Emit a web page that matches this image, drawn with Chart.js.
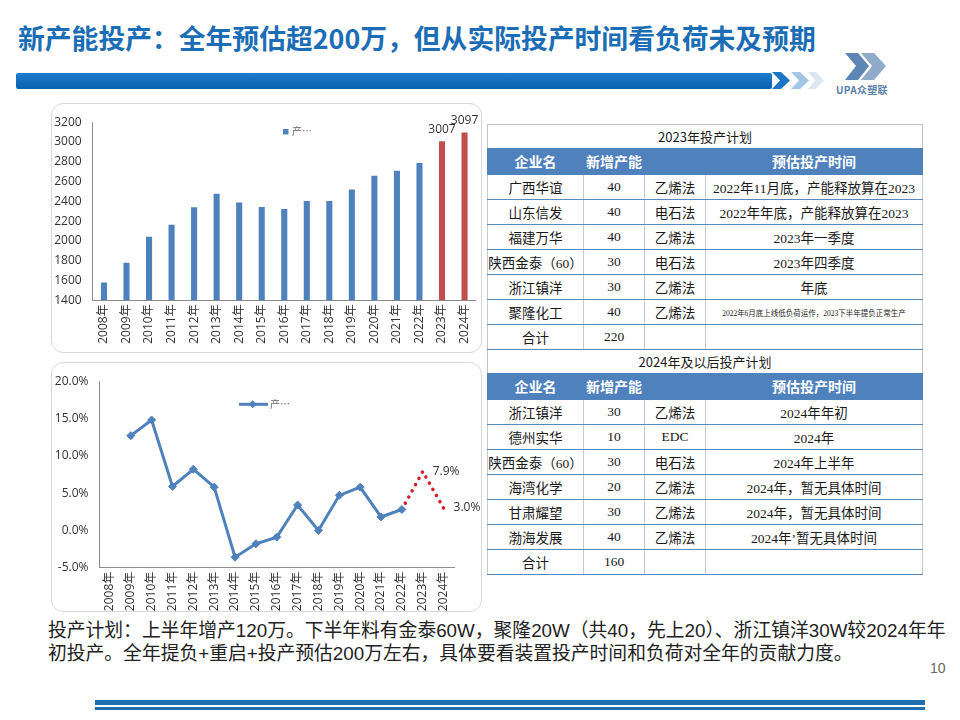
<!DOCTYPE html>
<html>
<head>
<meta charset="utf-8">
<script src="https://cdn.jsdelivr.net/npm/chart.js@4.4.0/dist/chart.umd.min.js"></script>
<style>
body{margin:0;width:960px;height:720px;position:relative;overflow:hidden;background:#fff;font-family:"Noto Sans CJK SC",sans-serif;}
#title{position:absolute;left:18px;top:21px;font-size:26.8px;font-weight:bold;color:#1b6db5;white-space:nowrap;line-height:34px;}
#topbar{position:absolute;left:16px;top:73px;width:756px;height:16px;background:linear-gradient(#1c7ccc,#0b60ad);border-radius:2px;}
#deco{position:absolute;left:0;top:0;}
#logoText{position:absolute;left:836px;top:82px;font-size:10px;font-weight:bold;color:#5a7fa8;letter-spacing:0.3px;}
.box{position:absolute;left:51px;width:431px;height:250px;border:1px solid #d8d8d8;border-radius:12px;overflow:hidden;box-sizing:border-box;background:#fff;}
.box canvas{position:absolute;left:0;top:0;}
table.plan{position:absolute;left:487px;width:435px;border-collapse:collapse;table-layout:fixed;font-family:"Liberation Serif","Noto Sans CJK SC",serif;color:#1a1a1a;}
table.plan td{padding:0;text-align:center;white-space:nowrap;overflow:hidden;font-size:13.5px;height:24px;border-left:1px solid #bfcadb;border-right:1px solid #bfcadb;border-bottom:1px solid #5b87c0;}
table.plan tr.cap td{font-family:"Noto Sans CJK SC",sans-serif;font-size:13px;height:23px;border-left:1px solid #c4c4c4;border-right:1px solid #c4c4c4;border-bottom:none;}
#plan2023 tr.cap td{border-top:1px solid #c4c4c4;}
table.plan tr.head td{background:#4f81bd;color:#fff;font-family:"Noto Sans CJK SC",sans-serif;font-weight:bold;font-size:14px;height:26px;border-color:#4f81bd;}
table.plan td.tiny{font-size:7.5px;}
#note{position:absolute;left:48px;top:619px;font-family:"Liberation Sans","Noto Sans CJK SC",sans-serif;font-size:18.8px;line-height:23px;color:#222;white-space:nowrap;}
#pageNo{position:absolute;left:930px;top:660px;font-size:14px;color:#666;font-family:"Liberation Sans",sans-serif;}
.band{position:absolute;left:95px;width:830px;background:#1f6fae;}
</style>
</head>
<body>
<div id="title">新产能投产：全年预估超200万，但从实际投产时间看负荷未及预期</div>
<div id="topbar"></div>
<svg id="deco" width="960" height="100">
  <polygon points="772,72 781,72 790,80.5 781,89 772,89 780,80.5" fill="#1b76c8"/>
  <polygon points="791,72 800,72 809,80.5 800,89 791,89 799,80.5" fill="#a3c6e6"/>
  <polygon points="808,72 816,72 824,80.5 816,89 808,89 815,80.5" fill="#dbe7f2"/>
  <polygon points="845,53 858,53 869,66 858,80 845,80 856,66" fill="#5d86b5"/>
  <polygon points="861,53 874,53 886,66 874,80 861,80 872,66" fill="#8fabc9"/>
</svg>
<div id="logoText">UPA众塑联</div>

<div class="box" style="top:103px;"><canvas id="capChart" width="431" height="249"></canvas></div>
<div class="box" style="top:362px;"><canvas id="growthChart" width="431" height="270"></canvas></div>

<table class="plan" id="plan2023" style="top:124px;"></table>
<table class="plan" id="plan2024" style="top:350px;"></table>

<div id="note">投产计划：上半年增产120万。下半年料有金泰60W，聚隆20W（共40，先上20）、浙江镇洋30W较2024年年<br>初投产。全年提负+重启+投产预估200万左右，具体要看装置投产时间和负荷对全年的贡献力度。</div>
<div id="pageNo">10</div>
<div class="band" style="top:700px;height:5px;"></div>
<div class="band" style="top:707px;height:3px;"></div>

<script>
// chart data
const years = ['2008年','2009年','2010年','2011年','2012年','2013年','2014年','2015年','2016年','2017年','2018年','2019年','2020年','2021年','2022年','2023年','2024年'];
const forecastYears = ['2023年','2024年'];
const capacity = [1580,1780,2042,2163,2340,2478,2388,2344,2324,2404,2404,2519,2660,2710,2787,3007,3097];
const growthActual = [null,12.7,14.8,5.9,8.2,5.8,-3.6,-1.8,-0.9,3.4,0.0,4.7,5.8,1.8,2.8,null,null];
const growthForecast = [null,null,null,null,null,null,null,null,null,null,null,null,null,null,2.8,7.9,3.0];
const seriesName = '产…';

// table data
const tableHead = ['企业名','新增产能','','预估投产时间'];
const plan2023Title = '2023年投产计划';
const plan2023Names = ['广西华谊','山东信发','福建万华','陕西金泰（60）','浙江镇洋','聚隆化工','合计'];
const plan2023Cap = [40,40,40,30,30,40,220];
const plan2023Route = ['乙烯法','电石法','乙烯法','电石法','乙烯法','乙烯法',''];
const plan2023Time = ['2022年11月底，产能释放算在2023','2022年年底，产能释放算在2023','2023年一季度','2023年四季度','年底','2022年6月底上线低负荷运作，2023下半年提负正常生产',''];
const plan2024Title = '2024年及以后投产计划';
const plan2024Names = ['浙江镇洋','德州实华','陕西金泰（60）','海湾化学','甘肃耀望','渤海发展','合计'];
const plan2024Cap = [30,10,30,20,30,40,160];
const plan2024Route = ['乙烯法','EDC','电石法','乙烯法','乙烯法','乙烯法',''];
const plan2024Time = ['2024年年初','2024年','2024年上半年','2024年，暂无具体时间','2024年，暂无具体时间','2024年’暂无具体时间',''];

function buildTable(id, title, names, caps, routes, times){
    var k = '<colgroup><col style="width:96px"><col style="width:61px"><col style="width:61px"><col style="width:217px"></colgroup>';
    k += '<tr class="cap"><td colspan="4">' + title + '</td></tr>';
    k += '<tr class="head">';
    for(var i = 0; i < tableHead.length; i++){
        k += '<td>' + tableHead[i] + '</td>';
    }
    k += '</tr>';
    for(var i = 0; i < names.length; i++){
        var cls = times[i].length > 22 ? ' class="tiny"' : '';
        k += '<tr>';
        k += '<td>' + names[i] + '</td>';
        k += '<td>' + caps[i] + '</td>';
        k += '<td>' + routes[i] + '</td>';
        k += '<td' + cls + '>' + times[i] + '</td>';
        k += '</tr>';
    }
    document.getElementById(id).innerHTML = k;
}
buildTable('plan2023', plan2023Title, plan2023Names, plan2023Cap, plan2023Route, plan2023Time);
buildTable('plan2024', plan2024Title, plan2024Names, plan2024Cap, plan2024Route, plan2024Time);

const BLUE = '#4f81bd';
const RED = '#c0504d';
const tickFont = {size: 12, family: "'Open Sans','Noto Sans CJK SC',sans-serif"};

// bar chart: legend + value labels
const capExtras = {
    id: 'capExtras',
    afterDraw(chart){
        const ctx = chart.ctx;
        ctx.save();
        ctx.fillStyle = BLUE;
        ctx.fillRect(231, 25, 5.5, 5.5);
        ctx.fillStyle = '#666';
        ctx.font = "10px 'Noto Sans CJK SC'";
        ctx.textBaseline = 'middle';
        ctx.fillText(chart.data.datasets[0].label, 240, 27.5);
        ctx.font = "12px 'Open Sans'";
        ctx.fillStyle = '#333';
        ctx.textAlign = 'center';
        ctx.textBaseline = 'bottom';
        chart.getDatasetMeta(0).data.forEach(function(bar, i){
            if(forecastYears.indexOf(years[i]) < 0) return;
            const text = String(capacity[i]);
            const w = ctx.measureText(text).width;
            const x = Math.min(bar.x, chart.width - w / 2 - 1);
            ctx.fillText(text, x, bar.y - 6);
        });
        ctx.restore();
    }
};

new Chart(document.getElementById('capChart'), {
    type: 'bar',
    data: {
        labels: years,
        datasets: [{
            label: seriesName,
            data: capacity,
            backgroundColor: ctx => forecastYears.indexOf(years[ctx.dataIndex]) >= 0 ? RED : BLUE,
            categoryPercentage: 1,
            barPercentage: 0.27
        }]
    },
    options: {
        responsive: false,
        animation: false,
        layout: {padding: {top: 17.7, right: 2, left: 0, bottom: 0}},
        plugins: {legend: {display: false}, tooltip: {enabled: false}},
        scales: {
            x: {
                grid: {display: false, drawTicks: false},
                border: {color: '#8c8c8c'},
                ticks: {minRotation: 90, maxRotation: 90, autoSkip: false, padding: 4, color: '#333', font: tickFont},
                afterFit: s => { s.height = 52.7; }
            },
            y: {
                min: 1400, max: 3200,
                grid: {display: false, drawTicks: false},
                border: {color: '#8c8c8c'},
                ticks: {stepSize: 200, padding: 11, color: '#333', font: tickFont, callback: v => String(v)},
                afterFit: s => { s.width = 40.7; }
            }
        }
    },
    plugins: [capExtras]
});

// line chart: legend + forecast labels
const growthExtras = {
    id: 'growthExtras',
    afterDraw(chart){
        const ctx = chart.ctx;
        ctx.save();
        ctx.strokeStyle = BLUE;
        ctx.lineWidth = 3;
        ctx.beginPath();
        ctx.moveTo(187, 41.3);
        ctx.lineTo(216, 41.3);
        ctx.stroke();
        ctx.fillStyle = BLUE;
        ctx.beginPath();
        ctx.moveTo(200.7, 37.3); ctx.lineTo(204.7, 41.3); ctx.lineTo(200.7, 45.3); ctx.lineTo(196.7, 41.3);
        ctx.closePath();
        ctx.fill();
        ctx.fillStyle = '#666';
        ctx.font = "10px 'Noto Sans CJK SC'";
        ctx.textBaseline = 'middle';
        ctx.fillText(chart.data.datasets[0].label, 218, 41.3);
        ctx.font = "12px 'Open Sans'";
        ctx.fillStyle = '#333';
        ctx.textAlign = 'left';
        chart.getDatasetMeta(1).data.forEach(function(pt, i){
            if(forecastYears.indexOf(years[i]) < 0) return;
            ctx.fillText(growthForecast[i].toFixed(1) + '%', pt.x + 10, pt.y);
        });
        ctx.restore();
    }
};

new Chart(document.getElementById('growthChart'), {
    type: 'line',
    data: {
        labels: years,
        datasets: [{
            label: seriesName,
            data: growthActual,
            borderColor: BLUE,
            backgroundColor: BLUE,
            borderWidth: 3,
            pointStyle: 'rectRot',
            pointRadius: 4,
            pointBorderWidth: 1,
            pointBackgroundColor: BLUE,
            tension: 0
        }, {
            label: '预测',
            data: growthForecast,
            borderColor: '#d3202a',
            borderWidth: 3.5,
            borderDash: [0.1, 7],
            borderCapStyle: 'round',
            pointRadius: 0,
            tension: 0
        }]
    },
    options: {
        responsive: false,
        animation: false,
        layout: {padding: {top: 9.7, right: 29, left: 0, bottom: 0}},
        plugins: {legend: {display: false}, tooltip: {enabled: false}},
        scales: {
            x: {
                offset: true,
                grid: {display: false, drawTicks: false},
                border: {color: '#8c8c8c'},
                ticks: {minRotation: 90, maxRotation: 90, autoSkip: false, padding: 4, color: '#333', font: tickFont},
                afterFit: s => { s.height = 65.3; }
            },
            y: {
                min: -5, max: 20,
                grid: {display: false, drawTicks: false},
                border: {color: '#8c8c8c'},
                ticks: {stepSize: 5, padding: 11, color: '#333', font: tickFont, callback: v => v.toFixed(1) + '%'},
                afterFit: s => { s.width = 47.5; }
            }
        }
    },
    plugins: [growthExtras]
});
</script>
</body>
</html>
